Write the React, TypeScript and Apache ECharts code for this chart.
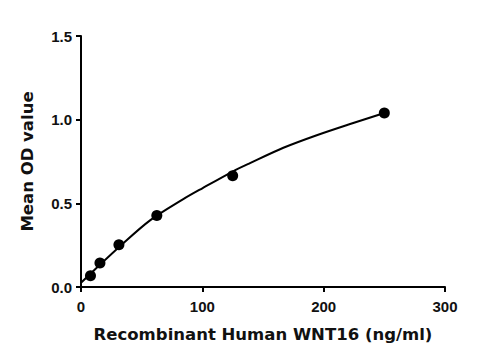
import React, { useEffect, useRef } from "react";
import * as echarts from "echarts";

const concentrations = [7.8125, 15.625, 31.25, 62.5, 125, 250];
const meanOD = [0.067, 0.143, 0.252, 0.427, 0.665, 1.04];

const curveX = [0, 15.6, 31.25, 56.9, 84.3, 100, 125, 139.3, 166.8, 194.3, 221.8, 250];
const curveY = [0.025, 0.133, 0.238, 0.398, 0.525, 0.59, 0.69, 0.74, 0.832, 0.907, 0.974, 1.04];

const xTicks = [0, 100, 200, 300];
const yTicks = [0, 0.5, 1.0, 1.5];

export default function App() {
  const ref = useRef<HTMLDivElement>(null);
  useEffect(() => {
    if (!ref.current) return;
    const chart = echarts.init(ref.current, null, { renderer: "svg" });
    const font = "Liberation Sans, Arial, sans-serif";
    const titleFont = "DejaVu Sans, sans-serif";
    chart.setOption({
      animation: false,
      backgroundColor: "#fff",
      grid: { left: 81, right: 55, top: 36, bottom: 74 },
      xAxis: {
        type: "value",
        min: xTicks[0],
        max: xTicks[xTicks.length - 1],
        interval: 100,
        name: "Recombinant Human WNT16 (ng/ml)",
        nameLocation: "middle",
        nameGap: 39,
        nameTextStyle: { fontFamily: titleFont, fontSize: 16.5, fontWeight: "bold", color: "#111" },
        axisLine: { lineStyle: { color: "#000", width: 2 } },
        axisTick: { length: 5, lineStyle: { color: "#000", width: 2 } },
        axisLabel: { fontFamily: font, fontSize: 15, fontWeight: "bold", color: "#111", margin: 12 },
        splitLine: { show: false },
      },
      yAxis: {
        type: "value",
        min: yTicks[0],
        max: yTicks[yTicks.length - 1],
        interval: 0.5,
        name: "Mean OD value",
        nameLocation: "middle",
        nameGap: 45,
        nameTextStyle: { fontFamily: titleFont, fontSize: 16.5, fontWeight: "bold", color: "#111" },
        axisLine: { show: true, lineStyle: { color: "#000", width: 2 } },
        axisTick: { show: true, length: 5, lineStyle: { color: "#000", width: 2 } },
        axisLabel: {
          fontFamily: font, fontSize: 15, fontWeight: "bold", color: "#111", margin: 9,
          formatter: (v: number) => v.toFixed(1),
        },
        splitLine: { show: false },
      },
      series: [
        {
          type: "line",
          data: curveX.map((x, i) => [x, curveY[i]]),
          smooth: 0.3,
          showSymbol: false,
          lineStyle: { color: "#000", width: 2 },
        },
        {
          type: "scatter",
          data: concentrations.map((x, i) => [x, meanOD[i]]),
          symbol: "circle",
          symbolSize: 11,
          itemStyle: { color: "#000", opacity: 1 },
        },
      ],
    });
    return () => chart.dispose();
  }, []);
  return <div ref={ref} style={{ width: 500, height: 361, position: "absolute", left: 0, top: 0 }} />;
}
